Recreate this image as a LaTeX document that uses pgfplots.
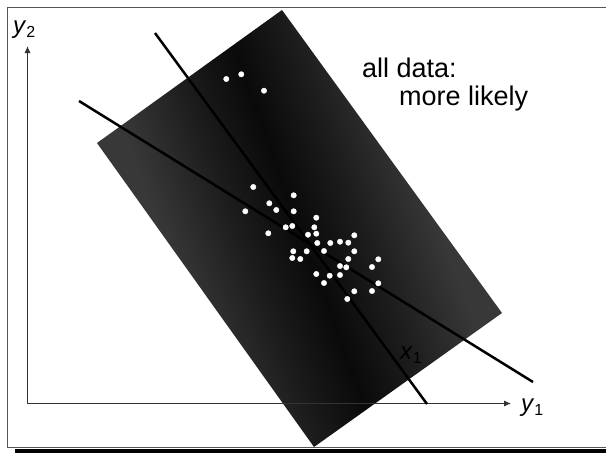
\documentclass[border=0pt]{standalone}
\usepackage{fontspec}
\setmainfont{Liberation Sans}
\usepackage{pgfplots}
\pgfplotsset{compat=1.18}
\usetikzlibrary{arrows.meta}
\definecolor{rectgray}{HTML}{383838}
\definecolor{midgray}{HTML}{1C1C1C}
\definecolor{darkgray}{HTML}{0A0A0A}
\definecolor{axgray}{HTML}{333333}
\definecolor{framegray}{HTML}{555555}
\pgfdeclarehorizontalshading{band}{100bp}{color(0bp)=(rectgray); color(34bp)=(rectgray); color(43bp)=(midgray); color(50bp)=(darkgray); color(57bp)=(midgray); color(66bp)=(rectgray); color(100bp)=(rectgray)}
\begin{document}
\begin{tikzpicture}
\begin{axis}[
  name=main,
  width=606pt, height=453pt, scale only axis,
  xmin=0, xmax=606, ymin=0, ymax=453, y dir=reverse,
  axis lines=none, ticks=none, clip=true,
]
% frame and shadow
\addplot[draw=none, fill=black] coordinates {(15,449) (606,449) (606,453) (15,453) (15,449)};
\addplot[draw=framegray, line width=1.3pt] coordinates {(606,7.5) (7.5,7.5) (7.5,447.8) (606,447.8)};
% shaded rectangle
\addplot[draw=none, shade, shading=band, shading angle=20]
  coordinates {(282,10) (502,313) (314,447) (97,143) (282,10)};
% axes
\addplot[axgray, line width=0.9pt, -{Latex[length=7pt,width=6pt]}] coordinates {(27.5,403.5) (27.5,46)};
\addplot[axgray, line width=0.9pt, -{Latex[length=7pt,width=6pt]}] coordinates {(27.5,403.5) (511,403.5)};
% data points
\addplot[only marks, mark=*, mark size=2.7pt, mark options={fill=white, draw=white}] coordinates {
(226.3,79) (241.3,74.3) (264,90.7)
(253.3,187) (293.7,195.3) (269.3,203.3) (276.3,210) (293.7,211.3) (245.3,211.3)
(316.3,217.7) (285.7,227.3) (292.3,226) (314.3,227.3) (268.3,233.3) (308,234.7)
(316.3,233.7) (354.3,235.3) (317.3,243) (330.3,243) (340,241.7) (348.3,242.7)
(293.3,251.3) (306.7,251.3) (324,251) (354.3,251.3) (292.3,258) (300.3,259)
(348.3,259) (378.3,259.3) (340,266) (346.3,267.3) (372,267) (316.3,274)
(329.7,275.7) (340,275) (324,283) (378.3,283.3) (354.3,291.3) (372,291) (347.3,299)
};
% lines
\addplot[black, line width=2.5pt] coordinates {(155,33) (427,404)};
\addplot[black, line width=2.5pt] coordinates {(79,101) (533,382)};
% labels
\node[anchor=base west, inner sep=0pt, font=\fontsize{27}{29}\selectfont] at (axis cs:362,77) {all data:};
\node[anchor=base west, inner sep=0pt, font=\fontsize{27}{29}\selectfont] at (axis cs:399,105) {more likely};
\node[anchor=base west, font=\fontsize{24}{26}\selectfont, inner sep=0pt] at (axis cs:13,33) {\textit{y}\raisebox{-0.35ex}{\fontsize{16}{17}\selectfont 2}};
\node[anchor=base west, font=\fontsize{24}{26}\selectfont, inner sep=0pt] at (axis cs:521,411) {\textit{y}\raisebox{-0.35ex}{\fontsize{16}{17}\selectfont 1}};
\node[anchor=base west, font=\fontsize{24}{26}\selectfont, inner sep=0pt, text=black] at (axis cs:400,359) {\textit{x}\raisebox{-0.35ex}{\fontsize{16}{17}\selectfont 1}};
\end{axis}
\pgfresetboundingbox
\path[use as bounding box] (main.south west) rectangle (main.north east);
\end{tikzpicture}
\end{document}
